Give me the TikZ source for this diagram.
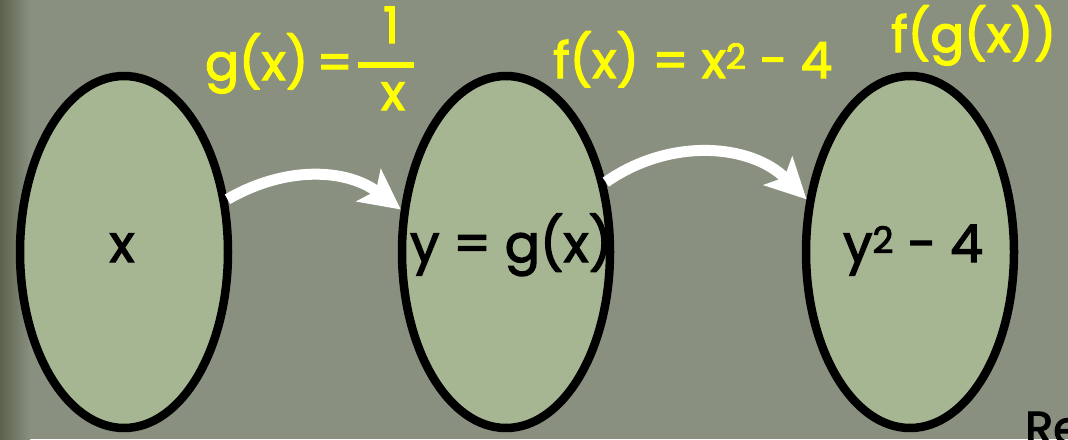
\documentclass[tikz,border=0pt]{standalone}
\usepackage{fontspec}
\setmainfont{Poppins}[FakeBold=2.5]
\usetikzlibrary{shapes.geometric,arrows.meta}
\definecolor{bgc}{HTML}{8A9080}
\definecolor{fillc}{HTML}{A6B592}
\definecolor{darkc}{HTML}{5A614C}
\definecolor{yel}{HTML}{FFFF00}
\begin{document}
\begin{tikzpicture}[x=1pt,y=-1pt,
  setnode/.style={ellipse,draw=black,line width=8.5pt,fill=fillc,minimum width=208pt,minimum height=352pt,inner sep=0pt},
  arr/.style={draw=white,line width=11pt,-{Stealth[length=40pt,width=40pt,inset=9pt]}},
  blk/.style={anchor=base west,font=\fontsize{52}{54}\selectfont,text=black,inner sep=0pt},
  yl/.style={anchor=base west,font=\fontsize{50}{52}\selectfont,text=yel,inner sep=0pt}]
\useasboundingbox (0,0) rectangle (1068,439);
\clip (0,0) rectangle (1068,439);
\fill[bgc] (0,0) rectangle (1068,439);
\shade[left color=darkc,right color=bgc] (0,0) rectangle (30,439);
% sets
\node[setnode] (e1) at (124,252) {};
\node[setnode] (e2) at (506,252) {};
\node[setnode] (e3) at (910,252) {};
% arrows
\draw[arr] (e1.27) to[out=30,in=143] (e2.158);
\draw[arr] (e2.35) to[out=35,in=135] (e3.153);
% texts in sets
\node[blk,anchor=base] (tx) at (122,262) {x};
\node[blk] (ty) at (410,262) {y = g(x)};
\node[blk] (tf) at (843,262) {y\textsuperscript{2} - 4};
% yellow labels
\node[yl] (lg) at (205,80) {g(x)\hspace{0.17em}=};
\coordinate (barl) at (358,65);
\coordinate (barr) at (414,65);
\draw[yel,line width=6pt] (barl) -- (barr);
\node[yl,anchor=base] (num) at (391,43) {1};
\node[yl,anchor=base] (den) at (393,110) {x};
\node[yl] (lf) at (553,78) {f(x) = x\textsuperscript{2} - 4};
\node[yl] (lfg) at (891,52) {f(g(x))};
% cut-off text
\node[anchor=base west,font=\fontsize{46}{48}\selectfont,text=black,inner sep=0pt] (re) at (1025,444) {Re};
\end{tikzpicture}
\end{document}
